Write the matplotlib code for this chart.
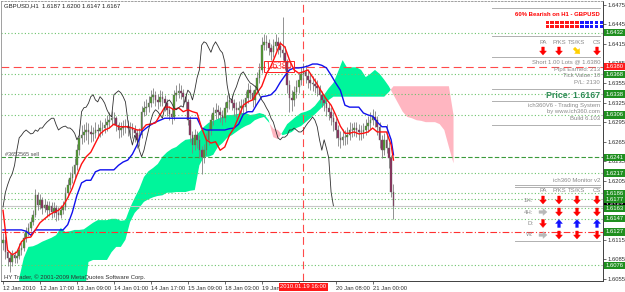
import numpy as np
import matplotlib
matplotlib.use("Agg")
import matplotlib.pyplot as plt
from matplotlib.patches import Polygon, Rectangle

plt.rcParams['font.family'] = ['Liberation Sans', 'DejaVu Sans']

# ---- GBPUSD H1 data ----
first_open = 1.6110
closes = [
    1.6115, 1.6096, 1.6087, 1.6081, 1.6092, 1.6087, 1.6090, 1.6099, 1.6102, 1.6118,
    1.6127, 1.6133, 1.6142, 1.6153, 1.6183, 1.6168, 1.6176, 1.6164, 1.6168, 1.6160,
    1.6167, 1.6157, 1.6164, 1.6156, 1.6153, 1.6160, 1.6165, 1.6187, 1.6199, 1.6209,
    1.6216, 1.6229, 1.6252, 1.6271, 1.6275, 1.6280, 1.6283, 1.6280, 1.6277, 1.6278,
    1.6283, 1.6281, 1.6286, 1.6286, 1.6291, 1.6295, 1.6298, 1.6301, 1.6301, 1.6291,
    1.6283, 1.6286, 1.6288, 1.6289, 1.6286, 1.6286, 1.6283, 1.6278, 1.6268, 1.6275,
    1.6311, 1.6317, 1.6318, 1.6324, 1.6334, 1.6337, 1.6329, 1.6326, 1.6334, 1.6330,
    1.6324, 1.6314, 1.6307, 1.6303, 1.6337, 1.6340, 1.6343, 1.6340, 1.6334, 1.6326,
    1.6298, 1.6275, 1.6260, 1.6275, 1.6268, 1.6252, 1.6242, 1.6252, 1.6268, 1.6283,
    1.6298, 1.6309, 1.6314, 1.6311, 1.6306, 1.6301, 1.6317, 1.6326, 1.6329, 1.6324,
    1.6317, 1.6314, 1.6317, 1.6320, 1.6318, 1.6332, 1.6344, 1.6340, 1.6329, 1.6344,
    1.6363, 1.6375, 1.6413, 1.6418, 1.6416, 1.6409, 1.6402, 1.6412, 1.6418, 1.6412,
    1.6405, 1.6401, 1.6387, 1.6352, 1.6332, 1.6329, 1.6341, 1.6349, 1.6360, 1.6369,
    1.6372, 1.6366, 1.6360, 1.6355, 1.6353, 1.6350, 1.6347, 1.6337, 1.6329, 1.6324,
    1.6317, 1.6311, 1.6301, 1.6295, 1.6283, 1.6271, 1.6268, 1.6272, 1.6272, 1.6275,
    1.6283, 1.6283, 1.6286, 1.6283, 1.6280, 1.6280, 1.6283, 1.6289, 1.6294, 1.6298,
    1.6303, 1.6298, 1.6288, 1.6268, 1.6252, 1.6268, 1.6255, 1.6240, 1.6188, 1.6167,
]
highs = [
    1.6125, 1.6120, 1.6100, 1.6095, 1.6100, 1.6098, 1.6097, 1.6110, 1.6112, 1.6125,
    1.6135, 1.6140, 1.6150, 1.6160, 1.6192, 1.6188, 1.6185, 1.6180, 1.6178, 1.6174,
    1.6175, 1.6172, 1.6172, 1.6168, 1.6165, 1.6168, 1.6175, 1.6195, 1.6208, 1.6218,
    1.6228, 1.6240, 1.6262, 1.6285, 1.6290, 1.6292, 1.6295, 1.6293, 1.6290, 1.6288,
    1.6295, 1.6292, 1.6298, 1.6296, 1.6302, 1.6306, 1.6310, 1.6312, 1.6310, 1.6305,
    1.6296, 1.6295, 1.6298, 1.6300, 1.6298, 1.6296, 1.6294, 1.6290, 1.6285, 1.6286,
    1.6320, 1.6328, 1.6330, 1.6335, 1.6345, 1.6348, 1.6342, 1.6338, 1.6344, 1.6342,
    1.6336, 1.6330, 1.6320, 1.6316, 1.6345, 1.6352, 1.6355, 1.6352, 1.6346, 1.6340,
    1.6330, 1.6305, 1.6282, 1.6285, 1.6282, 1.6275, 1.6258, 1.6262, 1.6278, 1.6292,
    1.6308, 1.6318, 1.6325, 1.6322, 1.6318, 1.6314, 1.6326, 1.6336, 1.6340, 1.6336,
    1.6330, 1.6326, 1.6328, 1.6330, 1.6330, 1.6342, 1.6355, 1.6352, 1.6345, 1.6352,
    1.6372, 1.6385, 1.6425, 1.6430, 1.6428, 1.6422, 1.6415, 1.6422, 1.6430, 1.6425,
    1.6420, 1.6456, 1.6412, 1.6392, 1.6360, 1.6345, 1.6350, 1.6360, 1.6370, 1.6380,
    1.6385, 1.6382, 1.6375, 1.6370, 1.6366, 1.6362, 1.6360, 1.6352, 1.6342, 1.6336,
    1.6330, 1.6325, 1.6318, 1.6310, 1.6302, 1.6290, 1.6282, 1.6284, 1.6283, 1.6288,
    1.6295, 1.6294, 1.6296, 1.6295, 1.6292, 1.6290, 1.6294, 1.6300, 1.6305, 1.6310,
    1.6315, 1.6312, 1.6305, 1.6295, 1.6275, 1.6278, 1.6292, 1.6265, 1.6245, 1.6200,
]
lows = [
    1.6100, 1.6085, 1.6075, 1.6066, 1.6075, 1.6080, 1.6080, 1.6085, 1.6092, 1.6098,
    1.6112, 1.6120, 1.6128, 1.6138, 1.6150, 1.6160, 1.6162, 1.6155, 1.6158, 1.6150,
    1.6152, 1.6148, 1.6150, 1.6143, 1.6145, 1.6148, 1.6155, 1.6160, 1.6180, 1.6192,
    1.6202, 1.6208, 1.6222, 1.6245, 1.6262, 1.6265, 1.6268, 1.6262, 1.6265, 1.6266,
    1.6270, 1.6270, 1.6272, 1.6275, 1.6278, 1.6282, 1.6286, 1.6290, 1.6290, 1.6282,
    1.6270, 1.6272, 1.6276, 1.6278, 1.6274, 1.6275, 1.6270, 1.6265, 1.6255, 1.6258,
    1.6270, 1.6305, 1.6306, 1.6310, 1.6318, 1.6325, 1.6320, 1.6315, 1.6320, 1.6320,
    1.6312, 1.6305, 1.6298, 1.6292, 1.6298, 1.6328, 1.6332, 1.6330, 1.6322, 1.6315,
    1.6290, 1.6265, 1.6248, 1.6252, 1.6255, 1.6240, 1.6215, 1.6232, 1.6245, 1.6260,
    1.6275, 1.6290, 1.6300, 1.6300, 1.6295, 1.6290, 1.6295, 1.6310, 1.6315, 1.6313,
    1.6305, 1.6302, 1.6305, 1.6308, 1.6308, 1.6310, 1.6325, 1.6330, 1.6318, 1.6320,
    1.6338, 1.6355, 1.6370, 1.6405, 1.6405, 1.6398, 1.6390, 1.6395, 1.6405, 1.6400,
    1.6395, 1.6390, 1.6375, 1.6340, 1.6310, 1.6312, 1.6320, 1.6332, 1.6340, 1.6352,
    1.6360, 1.6355, 1.6348, 1.6345, 1.6342, 1.6340, 1.6335, 1.6325, 1.6318, 1.6312,
    1.6305, 1.6298, 1.6290, 1.6282, 1.6270, 1.6258, 1.6255, 1.6260, 1.6260, 1.6262,
    1.6268, 1.6272, 1.6274, 1.6272, 1.6268, 1.6268, 1.6270, 1.6275, 1.6280, 1.6285,
    1.6290, 1.6288, 1.6276, 1.6255, 1.6240, 1.6245, 1.6248, 1.6225, 1.6180, 1.6147,
]

# Tenkan / Kijun read every 2nd bar (plus last bar)
line_bars = list(range(0, 169, 2)) + [169]
tenkan = [
    1.6160, 1.6099, 1.6092, 1.6096, 1.6112, 1.6118, 1.6119, 1.6130, 1.6141, 1.6147,
    1.6153, 1.6157, 1.6160, 1.6167, 1.6179, 1.6194, 1.6214, 1.6231, 1.6242, 1.6249,
    1.6263, 1.6277, 1.6283, 1.6286, 1.6292, 1.6288, 1.6288, 1.6288, 1.6286, 1.6283,
    1.6283, 1.6291, 1.6292, 1.6294, 1.6306, 1.6318, 1.6318, 1.6314, 1.6317, 1.6311,
    1.6314, 1.6311, 1.6309, 1.6286, 1.6268, 1.6263, 1.6265, 1.6252, 1.6257, 1.6275,
    1.6286, 1.6303, 1.6321, 1.6326, 1.6329, 1.6340, 1.6350, 1.6369, 1.6381, 1.6398,
    1.6416, 1.6410, 1.6390, 1.6375, 1.6370, 1.6372, 1.6375, 1.6364, 1.6353, 1.6341,
    1.6330, 1.6321, 1.6306, 1.6289, 1.6278, 1.6278, 1.6280, 1.6277, 1.6278, 1.6280,
    1.6286, 1.6280, 1.6280, 1.6280, 1.6260, 1.6237,
]
kijun = [
    1.6130, 1.6130, 1.6130, 1.6130, 1.6130, 1.6128, 1.6122, 1.6130, 1.6130, 1.6130,
    1.6130, 1.6130, 1.6130, 1.6130, 1.6138, 1.6157, 1.6183, 1.6202, 1.6206, 1.6206,
    1.6219, 1.6222, 1.6222, 1.6222, 1.6222, 1.6229, 1.6234, 1.6237, 1.6246, 1.6260,
    1.6280, 1.6286, 1.6291, 1.6295, 1.6298, 1.6301, 1.6301, 1.6301, 1.6301, 1.6301,
    1.6301, 1.6301, 1.6301, 1.6286, 1.6283, 1.6283, 1.6283, 1.6283, 1.6283, 1.6285,
    1.6286, 1.6292, 1.6307, 1.6311, 1.6311, 1.6323, 1.6334, 1.6335, 1.6337, 1.6344,
    1.6356, 1.6366, 1.6375, 1.6378, 1.6378, 1.6379, 1.6381, 1.6384, 1.6384, 1.6382,
    1.6378, 1.6367, 1.6355, 1.6344, 1.6321, 1.6318, 1.6318, 1.6318, 1.6309, 1.6306,
    1.6304, 1.6295, 1.6288, 1.6288, 1.6268, 1.6245,
]

# Kumo (cloud), read every 2nd bar, projected 26 bars ahead
cloud_bars = list(range(7, 196, 2))
span_a = [
    1.6056, 1.6087, 1.6104, 1.6105, 1.6108, 1.6112, 1.6115, 1.6118, 1.6122, 1.6133,
    1.6127, 1.6128, 1.6130, 1.6130, 1.6131, 1.6136, 1.6141, 1.6145, 1.6145, 1.6145,
    1.6147, 1.6147, 1.6144, 1.6145, 1.6164, 1.6179, 1.6193, 1.6211, 1.6220, 1.6225,
    1.6231, 1.6242, 1.6249, 1.6254, 1.6257, 1.6263, 1.6268, 1.6269, 1.6272, 1.6280,
    1.6288, 1.6294, 1.6297, 1.6300, 1.6303, 1.6306, 1.6306, 1.6307, 1.6309, 1.6309,
    1.6306, 1.6307, 1.6309, 1.6307, 1.6298, 1.6272, 1.6269, 1.6280, 1.6292, 1.6298,
    1.6304, 1.6309, 1.6311, 1.6314, 1.6320, 1.6329, 1.6337, 1.6347, 1.6355, 1.6372,
    1.6390, 1.6378, 1.6379, 1.6379, 1.6375, 1.6364, 1.6369, 1.6375, 1.6369, 1.6360,
    1.6350, 1.6337, 1.6324, 1.6311, 1.6303, 1.6301, 1.6298, 1.6297, 1.6295, 1.6295,
    1.6295, 1.6292, 1.6283, 1.6257, 1.6232,
]
span_b = [
    1.6023, 1.6023, 1.6023, 1.6023, 1.6023, 1.6023, 1.6023, 1.6023, 1.6023, 1.6023,
    1.6023, 1.6023, 1.6023, 1.6023, 1.6023, 1.6081, 1.6084, 1.6084, 1.6084, 1.6084,
    1.6096, 1.6104, 1.6104, 1.6115, 1.6142, 1.6156, 1.6164, 1.6173, 1.6177, 1.6180,
    1.6182, 1.6183, 1.6187, 1.6187, 1.6188, 1.6188, 1.6188, 1.6190, 1.6191, 1.6229,
    1.6242, 1.6242, 1.6245, 1.6257, 1.6263, 1.6271, 1.6275, 1.6280, 1.6285, 1.6289,
    1.6292, 1.6298, 1.6301, 1.6303, 1.6295, 1.6285, 1.6283, 1.6275, 1.6277, 1.6280,
    1.6286, 1.6289, 1.6295, 1.6301, 1.6307, 1.6314, 1.6321, 1.6329, 1.6334, 1.6334,
    1.6334, 1.6334, 1.6334, 1.6334, 1.6334, 1.6334, 1.6334, 1.6334, 1.6334, 1.6334,
    1.6341, 1.6350, 1.6350, 1.6350, 1.6350, 1.6350, 1.6350, 1.6350, 1.6350, 1.6350,
    1.6350, 1.6350, 1.6350, 1.6350, 1.6306,
]
chikou_shift = 26

# levels drawn on the chart
green_levels = [1.6432, 1.6368, 1.6338, 1.6306, 1.6217, 1.6186, 1.6177, 1.6163, 1.6147, 1.6076]
order_level = 1.6241
entry_level = 1.6380
stop_level = 1.6127
bid = 1.6167
label_levels = [1.6432, 1.6368, 1.6338, 1.6306, 1.6241, 1.6217, 1.6186, 1.6177,
                 1.6163, 1.6147, 1.6127, 1.6076]
cursor_bar = 130

# the 19 Jan 16:00 label sits under the red cursor box, so it is left blank
time_bars = [0, 16, 32, 48, 64, 80, 96, 112, 128, 144, 160]
time_labels = ["12 Jan 2010", "12 Jan 17:00", "13 Jan 09:00", "14 Jan 01:00", "14 Jan 17:00",
               "15 Jan 09:00", "18 Jan 03:00", "19 Jan 00:00", "",
               "20 Jan 08:00", "21 Jan 00:00"]

monitor_rows = ["1H:", "4H:", "D:", "W:"]
monitor_dirs = [["down", "down", "down", "down"],
                ["right", "down", "down", "down"],
                ["down", "up", "up", "up"],
                ["right", "down", "down", "down"]]
bear_squares, bull_squares = 7, 5

assert len(closes) == len(highs) == len(lows) == 170
assert len(tenkan) == len(kijun) == len(line_bars)
assert len(span_a) == len(span_b) == len(cloud_bars)

# ---- figure ----
W, H = 625, 292
fig = plt.figure(figsize=(W / 100, H / 100), dpi=100, facecolor='white')
ax = fig.add_axes([1 / W, 11 / H, 602 / W, 280 / H])
ax.set_xlim(-0.87, 259.7)
ax.set_ylim(1.60518, 1.64805)

c = np.array(closes)
o = np.array([first_open] + closes[:-1])
hi = np.array(highs)
lo = np.array(lows)
x = np.arange(len(c))

# cloud
cb = np.array(cloud_bars)
sa = np.array(span_a)
sb = np.array(span_b)
ax.fill_between(cb, sa, sb, where=sa >= sb, interpolate=True, color='#00f59b', lw=0, zorder=1)
ax.fill_between(cb, sa, sb, where=sa < sb, interpolate=True, color='#ffb6c1', lw=0, zorder=1)

# levels
for lv in green_levels:
    ax.axhline(lv, color='#6cc36c', lw=0.8, ls=(0, (1, 2)), zorder=2)
ax.axhline(order_level, color='#3a9a3a', lw=0.8, ls=(0, (4, 2)), zorder=2)
ax.axhline(entry_level, color='#ff4a4a', lw=0.8, ls=(0, (7, 4)), zorder=2)
ax.axhline(stop_level, color='#ff3030', lw=0.8, ls=(0, (6, 2, 1, 2)), zorder=2)
ax.axhline(bid, color='#c8c8c8', lw=0.8, zorder=2)
ax.axvline(cursor_bar, color='#ff4a4a', lw=0.8, ls=(0, (7, 4)), zorder=2)

# candles
ax.vlines(x, lo, hi, color='#808080', lw=0.6, zorder=3)
body_lo = np.minimum(o, c)
body_h = np.maximum(np.abs(c - o), 0.00004)
colors = np.where(c >= o, '#4c9a2a', '#8b2a5a')
ax.bar(x, body_h, bottom=body_lo, width=0.7, color=colors, edgecolor='#6a6a6a', lw=0.3, zorder=3)

# ichimoku lines
ax.plot(line_bars, kijun, color='#1010ee', lw=1.0, zorder=4)
ax.plot(line_bars, tenkan, color='#ff1010', lw=1.0, zorder=4)
ax.plot(x[:-chikou_shift], c[chikou_shift:], color='#303030', lw=0.6, zorder=4)

# axes styling
for side in ['left', 'top']:
    ax.spines[side].set_color('#909090')
    ax.spines[side].set_linewidth(0.6)
ax.spines['top'].set_linestyle((0, (2, 2)))
for side in ['right', 'bottom']:
    ax.spines[side].set_color('#404040')
    ax.spines[side].set_linewidth(0.7)
ax.yaxis.tick_right()
ax.set_yticks(np.round(np.arange(1.6055, 1.6476, 0.003), 4))
ax.yaxis.set_major_formatter(matplotlib.ticker.FormatStrFormatter('%.4f'))
ax.tick_params(axis='y', labelsize=4.2, colors='#303030', length=2, width=0.5, pad=1.5)
ax.set_xticks(time_bars)
ax.set_xticklabels(time_labels, ha='left')
ax.tick_params(axis='x', labelsize=4.2, colors='#303030', length=2, width=0.5, pad=1.5)

# price boxes on the scale
ytr = ax.get_yaxis_transform()
ax.text(1.004, bid, f'{bid:.4f}', transform=ytr, fontsize=4.2, color='white', va='center',
        ha='left', clip_on=False, zorder=6,
        bbox=dict(boxstyle='square,pad=0.2', fc='black', ec='none'))
for lv in label_levels:
    ax.text(1.004, lv, f'{lv:.4f}', transform=ytr, fontsize=4.2, color='white', va='center',
            ha='left', clip_on=False, zorder=6,
            bbox=dict(boxstyle='square,pad=0.2', fc='#1f8f1f', ec='none'))
ax.text(1.004, entry_level, f'{entry_level:.4f}', transform=ytr, fontsize=4.2, color='white',
        va='center', ha='left', clip_on=False, zorder=6,
        bbox=dict(boxstyle='square,pad=0.2', fc='#ff1a1a', ec='none'))

# ---- overlay for text panels (pixel coordinates) ----
ov = fig.add_axes([0, 0, 1, 1], facecolor='none')
ov.set_xlim(0, W)
ov.set_ylim(H, 0)
ov.axis('off')

gray = '#8a8a8a'


def arrow(cx, cy, direction, color):
    angle = {'down': 0, 'up': 180, 'right': -90, 'downright': -45}[direction]
    pts = np.array([[-1.3, -4], [1.3, -4], [1.3, 0], [3.4, 0], [0, 4], [-3.4, 0], [-1.3, 0]])
    th = np.radians(angle)
    rot = np.array([[np.cos(th), -np.sin(th)], [np.sin(th), np.cos(th)]])
    ov.add_patch(Polygon(pts @ rot.T + [cx, cy], closed=True, fc=color, ec=color, lw=0.3))


arrow_colors = {'down': '#ff0000', 'up': '#1010ff', 'right': '#b8b8b8', 'downright': '#ffd000'}

ov.text(4, 6, "GBPUSD,H1  1.6187 1.6200 1.6147 1.6167", fontsize=4.3, color='#202020', va='center')
ov.text(5, 154, "#3652565 sell", fontsize=4, color='#505050', va='center')
ov.text(4, 277, "HY Trader, \u00a9 2001-2009 MetaQuotes Software Corp.", fontsize=4.3,
        color='#303030', va='center')
ov.text(279, 66.5, "1.6380", fontsize=7, color='#ff2020', family='Liberation Serif',
        ha='center', va='center',
        bbox=dict(boxstyle='square,pad=0.15', fc='none', ec='#ff2020', lw=0.7))
ov.text(303.5, 287, "2010.01.19 16:00", fontsize=4.2, color='white', ha='center', va='center',
        bbox=dict(boxstyle='square,pad=0.3', fc='#ff1a1a', ec='none'))

# signal panel
for y0, x0 in [(8, 492), (36, 492), (57, 492), (89, 492), (101, 492), (125, 492),
               (185, 515), (187, 515), (241, 515)]:
    ov.plot([x0, 600], [y0, y0], color='#b0b0b0', lw=0.7)

ov.text(600, 14, "60% Bearish on H1 - GBPUSD", ha='right', va='center', color='#ff0000',
        fontsize=4.3, fontweight='bold')
for k in range(bear_squares + bull_squares):
    col = '#ff1a1a' if k < bear_squares else '#1a1aff'
    for ry in (20.5, 24.5):
        ov.add_patch(Rectangle((545.5 + 4.95 * k, ry), 3.4, 3.0, fc=col, ec='none'))

cols_x = [543, 559, 577, 597]
for tx, lab in zip(cols_x, ["PA", "P/KS", "TS/KS", "CS"]):
    ov.text(tx, 42, lab, ha='center', va='center', color=gray, fontsize=4.3)
for tx, d in zip(cols_x, ['down', 'down', 'downright', 'down']):
    arrow(tx, 51, d, arrow_colors[d])

for ty, s in [(62, "Short 1.00 Lots @ 1.6380"), (69, "Pips Earned: 213"),
              (75.5, "Tick Value: 10"), (82, "P/L: 2130")]:
    ov.text(600, ty, s, ha='right', va='center', color=gray, fontsize=4.3)
ov.text(600, 96, "Price: 1.6167", ha='right', va='center', color='#2e8b57', fontsize=6.3,
        fontweight='bold')
for ty, s in [(106, "ich360V6 - Trading System"), (112, "by www.ich360.com"),
              (118.5, "Build 6.103")]:
    ov.text(600, ty, s, ha='right', va='center', color=gray, fontsize=4.3)

ov.text(600, 180.5, "ich360 Monitor v2", ha='right', va='center', color=gray, fontsize=4.3)
for tx, lab in zip(cols_x, ["PA", "P/KS", "TS/KS", "CS"]):
    ov.text(tx, 191, lab, ha='center', va='center', color=gray, fontsize=4.3)
for ry, lab, dirs in zip([200, 212, 223.5, 235], monitor_rows, monitor_dirs):
    ov.text(533, ry, lab, ha='right', va='center', color=gray, fontsize=4.3)
    for tx, d in zip(cols_x, dirs):
        arrow(tx, ry, d, arrow_colors[d])

fig.savefig('out.png', dpi=100, facecolor='white')
